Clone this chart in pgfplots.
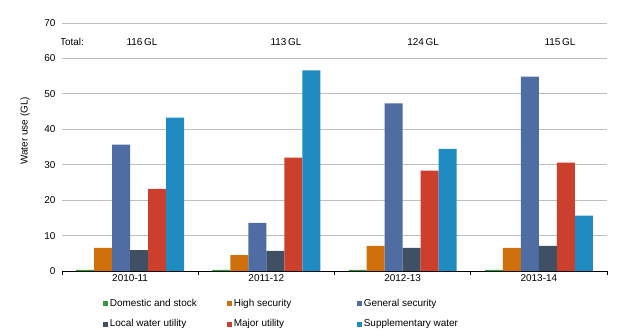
\documentclass[border=0pt]{standalone}
\usepackage{fontspec}
\setmainfont{Liberation Sans}
\usepackage{pgfplots}
\pgfplotsset{compat=1.18}
\definecolor{cDom}{HTML}{35963A}
\definecolor{cHigh}{HTML}{D0700C}
\definecolor{cGen}{HTML}{4F6DA3}
\definecolor{cLoc}{HTML}{3F4F64}
\definecolor{cMaj}{HTML}{CC3F2D}
\definecolor{cSup}{HTML}{1F8BC0}
\begin{document}
\begin{tikzpicture}[font=\fontsize{10}{12}\selectfont]
\pgfplotsset{leg/.style={legend image code/.code={\fill[##1] (0bp,-2.5bp) rectangle (5bp,2.5bp);}}}
\begin{axis}[
  at={(0,0)}, anchor=south west,
  scale only axis, width=545bp, height=248bp,
  xmin=-0.5, xmax=3.5, ymin=0, ymax=70,
  ybar=0pt, bar width=18bp,
  xtick={0,1,2,3}, xticklabels={2010-11,2011-12,2012-13,2013-14},
  minor xtick={-0.5,0.5,1.5,2.5,3.5},
  major tick length=0pt, minor tick length=4bp, tick align=outside,
  ytick={0,10,...,70},
  yticklabel style={xshift=-3bp},
  ymajorgrids, grid style={color=black!25, line width=0.8pt},
  axis x line*=bottom, axis y line*=left,
  y axis line style={draw=none},
  x axis line style={black, line width=0.8pt},
  minor x tick style={black, line width=0.8pt},
  /pgf/number format/assume math mode=true,
  ylabel={Water use (GL)},
  ylabel style={at={(axis description cs:-0.068,0.565)}, anchor=center},
  legend columns=3,
  legend cell align=left,
  legend style={draw=none, fill=none, at={(axis description cs:0.07,-0.1)}, anchor=north west,
    /tikz/row sep=8.5bp,
    nodes={inner sep=1.5bp}},
  every axis plot/.append style={draw=none},
]
\addplot[fill=cDom, leg] coordinates {(0,0.3) (1,0.3) (2,0.3) (3,0.3)};
\addplot[fill=cHigh, leg] coordinates {(0,6.5) (1,4.5) (2,7.1) (3,6.5)};
\addplot[fill=cGen, leg] coordinates {(0,35.7) (1,13.6) (2,47.3) (3,54.9)};
\addplot[fill=cLoc, leg] coordinates {(0,5.9) (1,5.7) (2,6.5) (3,7.1)};
\addplot[fill=cMaj, leg] coordinates {(0,23.2) (1,32.0) (2,28.3) (3,30.6)};
\addplot[fill=cSup, leg] coordinates {(0,43.3) (1,56.6) (2,34.5) (3,15.6)};
\legend{\makebox[116bp][l]{Domestic and stock}, \makebox[122bp][l]{High security}, General security, \makebox[116bp][l]{Local water utility}, \makebox[122bp][l]{Major utility}, Supplementary water}
\node[anchor=west, inner sep=0] at (axis cs:-0.515,64.6) {Total:};
\node at (axis cs:0.087,64.6) {116\,GL};
\node at (axis cs:1.144,64.6) {113\,GL};
\node at (axis cs:2.15,64.6) {124\,GL};
\node at (axis cs:3.155,64.6) {115\,GL};
\end{axis}
\pgfresetboundingbox
\path (-62bp,-65bp) rectangle (581bp,271bp);
\end{tikzpicture}
\end{document}
